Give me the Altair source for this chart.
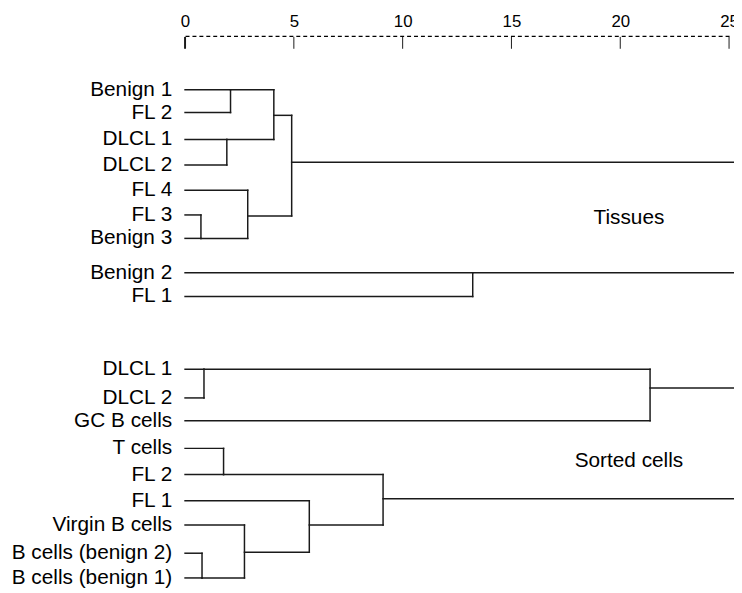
import altair as alt
import pandas as pd

# ---------------- data ----------------
AXIS_MAX = 25
LINE_END = 25.4          # root branches run slightly past the last tick
axis_ticks = [0, 5, 10, 15, 20, 25]

# Tissues dendrogram: leaves (label, row position)
tissue_labels = ["Benign 1", "FL 2", "DLCL 1", "DLCL 2", "FL 4", "FL 3", "Benign 3", "Benign 2", "FL 1"]
tissue_rows = [87.5, 110.5, 137.7, 163.5, 189, 214, 237.7, 272.5, 296.5]
# merges: child a, child b, rescaled distance, row of joined node
tissue_merge_a = ["t0", "t2", "tm0", "t5", "t4", "tm2", "t7"]
tissue_merge_b = ["t1", "t3", "tm1", "t6", "tm3", "tm4", "t8"]
tissue_merge_dist = [2.09, 1.92, 4.08, 0.73, 2.88, 4.90, 13.22]
tissue_merge_row = [87.5, 137.7, 113.3, 237.7, 215, 160.7, 272.5]

# Sorted cells dendrogram
sorted_labels = ["DLCL 1", "DLCL 2", "GC B cells", "T cells", "FL 2", "FL 1",
                 "Virgin B cells", "B cells (benign 2)", "B cells (benign 1)"]
sorted_rows = [370, 399, 422, 450, 476.5, 503, 527.5, 556, 581]
sorted_merge_a = ["s0", "sm0", "s3", "s7", "s6", "s5", "sm2"]
sorted_merge_b = ["s1", "s2", "s4", "s8", "sm3", "sm4", "sm5"]
sorted_merge_dist = [0.87, 21.37, 1.77, 0.78, 2.73, 5.71, 9.10]
sorted_merge_row = [370, 389, 476.5, 581, 555, 527.5, 501]

group_names = ["Tissues", "Sorted cells"]
group_x = [20.4, 20.4]
group_rows = [217, 462.7]

# ---------------- build tables ----------------
nodes = {}
leaf_records = []
for prefix, labels, rows in (("t", tissue_labels, tissue_rows), ("s", sorted_labels, sorted_rows)):
    for i, (lab, r) in enumerate(zip(labels, rows)):
        nodes[f"{prefix}{i}"] = (0.0, r)
        leaf_records.append({"label": lab, "x": 0.0, "y": r})

segments = []
children = set()
for prefix, ma, mb, md, mr in (("tm", tissue_merge_a, tissue_merge_b, tissue_merge_dist, tissue_merge_row),
                               ("sm", sorted_merge_a, sorted_merge_b, sorted_merge_dist, sorted_merge_row)):
    for i, (a, b, d, r) in enumerate(zip(ma, mb, md, mr)):
        for c in (a, b):
            cx, cy = nodes[c]
            segments.append({"x": cx, "x2": d, "y": cy, "y2": cy})
            children.add(c)
        segments.append({"x": d, "x2": d, "y": nodes[a][1], "y2": nodes[b][1]})
        nodes[f"{prefix}{i}"] = (d, r)

for name, (d, r) in nodes.items():
    if "m" in name and name not in children:
        segments.append({"x": d, "x2": LINE_END, "y": r, "y2": r})

seg_df = pd.DataFrame(segments)
leaf_df = pd.DataFrame(leaf_records)
group_df = pd.DataFrame({"label": group_names, "x": group_x, "y": group_rows})
tick_df = pd.DataFrame({"x": axis_ticks})

FONT = "Liberation Sans"
x_axis = alt.Axis(orient="top", values=axis_ticks, title=None, grid=False,
                  ticks=False, tickSize=0, labelPadding=6, labelFlush=False,
                  labelOverlap=False, labelFont=FONT, labelFontSize=17,
                  labelColor="black", domainColor="black", domainWidth=1.2,
                  domainDash=[4, 3])
x_scale = alt.Scale(domain=[0, AXIS_MAX], nice=False, zero=False)
y_scale = alt.Scale(domain=[33, 585], reverse=True, nice=False, zero=False)

lines = alt.Chart(seg_df).mark_rule(color="#1a1a1a", strokeWidth=1.5, strokeCap="square").encode(
    x=alt.X("x:Q", scale=x_scale, axis=x_axis),
    x2="x2:Q",
    y=alt.Y("y:Q", scale=y_scale, axis=None),
    y2="y2:Q",
)

ticks = alt.Chart(tick_df).mark_rule(color="#1a1a1a").encode(
    x=alt.X("x:Q", scale=x_scale, axis=x_axis),
    y=alt.value(1),
    y2=alt.value(13),
    strokeWidth=alt.condition("datum.x == 0", alt.value(2), alt.value(1)),
)

leaf_text = alt.Chart(leaf_df).mark_text(align="right", baseline="middle", dx=-13,
                                         font=FONT, fontSize=21, color="black").encode(
    x=alt.X("x:Q", scale=x_scale, axis=x_axis),
    y=alt.Y("y:Q", scale=y_scale, axis=None),
    text="label:N",
)

group_text = alt.Chart(group_df).mark_text(align="center", baseline="middle",
                                           font=FONT, fontSize=21, color="black").encode(
    x=alt.X("x:Q", scale=x_scale, axis=x_axis),
    y=alt.Y("y:Q", scale=y_scale, axis=None),
    text="label:N",
)

chart = alt.layer(lines, ticks, leaf_text, group_text).properties(
    width=550, height=552,
    autosize=alt.AutoSizeParams(type="none"),
    padding={"left": 179, "top": 25, "right": 5, "bottom": 8},
).configure_view(stroke=None)

chart.save("out.html", embed_options={"renderer": "svg", "actions": False})
